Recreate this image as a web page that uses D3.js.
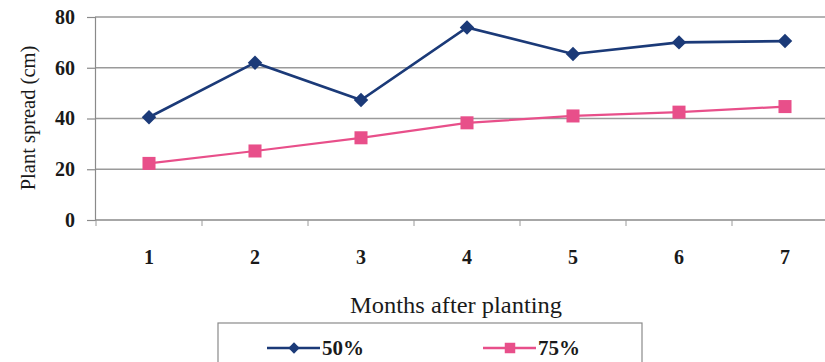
<!DOCTYPE html>
<html>
<head>
<meta charset="utf-8">
<script src="https://cdn.jsdelivr.net/npm/d3@7/dist/d3.min.js"></script>
<style>
  html, body { margin: 0; padding: 0; background: #ffffff; }
  svg { display: block; }
  text { font-family: "Liberation Serif", "DejaVu Serif", serif; fill: #1a1a1a; }
</style>
</head>
<body>
<svg id="chart" width="825" height="362"></svg>
<script>
// Months after planting
const months = ["1", "2", "3", "4", "5", "6", "7"];
// Plant spread (cm) per treatment
const spread50 = [40.5, 62, 47.3, 75.9, 65.4, 70, 70.5];
const spread75 = [22.3, 27.2, 32.4, 38.3, 41, 42.5, 44.7];
const yTicks = [0, 20, 40, 60, 80];
const seriesNames = ["50%", "75%"];
const seriesColors = ["#1b3a78", "#e84f8a"];

const svg = d3.select("#chart");
const margin = { left: 95, top: 17, bottom: 220, right: 838 };

const x = d3.scaleBand().domain(months).range([margin.left + 1, margin.right]);
const y = d3.scaleLinear().domain([0, 80]).range([margin.bottom, margin.top]);

// Horizontal gridlines
svg.append("g")
  .selectAll("line")
  .data(yTicks.filter(d => d > 0))
  .join("line")
  .attr("x1", margin.left).attr("x2", 825)
  .attr("y1", d => y(d)).attr("y2", d => y(d))
  .attr("stroke", "#9a9a9a").attr("stroke-width", 1.5);

// Y axis
const yAxis = svg.append("g")
  .attr("transform", `translate(${margin.left},0)`)
  .call(d3.axisLeft(y).tickValues(yTicks).tickSize(8).tickPadding(12));
yAxis.select(".domain").attr("stroke", "#8a8a8a").attr("stroke-width", 1.2);
yAxis.selectAll(".tick line").attr("stroke", "#8a8a8a").attr("stroke-width", 1.2);
yAxis.selectAll(".tick text")
  .attr("font-size", 20).attr("font-weight", "bold")
  .attr("font-family", "Liberation Serif, serif").attr("fill", "#222");

// X axis: ticks on category boundaries
const xAxisG = svg.append("g").attr("transform", `translate(0,${margin.bottom})`);
xAxisG.append("line")
  .attr("x1", margin.left).attr("x2", 825)
  .attr("stroke", "#8a8a8a").attr("stroke-width", 1.5);
const bounds = months.map(m => x(m)).concat([x(months[months.length - 1]) + x.bandwidth()]);
xAxisG.selectAll("line.tick")
  .data(bounds)
  .join("line")
  .attr("class", "tick")
  .attr("x1", d => d).attr("x2", d => d)
  .attr("y1", 0).attr("y2", 6)
  .attr("stroke", "#9a9a9a").attr("stroke-width", 1);
xAxisG.selectAll("text")
  .data(months)
  .join("text")
  .attr("x", d => x(d) + x.bandwidth() / 2)
  .attr("y", 44)
  .attr("text-anchor", "middle")
  .attr("font-size", 20).attr("font-weight", "bold")
  .attr("fill", "#222")
  .text(d => d);

// Axis titles
svg.append("text")
  .attr("transform", `translate(35,118) rotate(-90)`)
  .attr("text-anchor", "middle")
  .attr("font-size", 20.5)
  .text("Plant spread (cm)");

svg.append("text")
  .attr("x", 456).attr("y", 313)
  .attr("text-anchor", "middle")
  .attr("font-size", 23.5)
  .attr("textLength", 212).attr("lengthAdjust", "spacingAndGlyphs")
  .text("Months after planting");

// Series lines and markers
const cx = d => x(d) + x.bandwidth() / 2;
const line = d3.line().x((d, i) => cx(months[i])).y(d => y(d));

const diamond = d3.symbol().type(d3.symbolSquare).size(105);
const square = d3.symbol().type(d3.symbolSquare).size(170);

svg.append("path")
  .datum(spread75)
  .attr("d", line)
  .attr("fill", "none").attr("stroke", seriesColors[1]).attr("stroke-width", 2.2);
svg.append("g").selectAll("path")
  .data(spread75)
  .join("path")
  .attr("transform", (d, i) => `translate(${cx(months[i])},${y(d)})`)
  .attr("d", square)
  .attr("fill", seriesColors[1]);

svg.append("path")
  .datum(spread50)
  .attr("d", line)
  .attr("fill", "none").attr("stroke", seriesColors[0]).attr("stroke-width", 2.6);
svg.append("g").selectAll("path")
  .data(spread50)
  .join("path")
  .attr("transform", (d, i) => `translate(${cx(months[i])},${y(d)}) rotate(45)`)
  .attr("d", diamond)
  .attr("fill", seriesColors[0]);

// Legend
const legend = svg.append("g");
legend.append("rect")
  .attr("x", 218).attr("y", 323).attr("width", 424).attr("height", 50)
  .attr("fill", "#ffffff").attr("stroke", "#8a8a8a").attr("stroke-width", 1.2);

const legendItems = [
  { name: seriesNames[0], color: seriesColors[0], sym: d3.symbol().type(d3.symbolSquare).size(64), rot: 45, x0: 267 },
  { name: seriesNames[1], color: seriesColors[1], sym: d3.symbol().type(d3.symbolSquare).size(110), rot: 0, x0: 483 }
];
legendItems.forEach(item => {
  const g = legend.append("g").attr("transform", `translate(${item.x0},348)`);
  g.append("line").attr("x1", 0).attr("x2", 53)
    .attr("stroke", item.color).attr("stroke-width", 2.6);
  g.append("path").attr("transform", `translate(27,0) rotate(${item.rot})`).attr("d", item.sym).attr("fill", item.color);
  g.append("text").attr("x", 55).attr("y", 7)
    .attr("font-size", 21).attr("font-weight", "bold").attr("fill", "#222")
    .text(item.name);
});
</script>
</body>
</html>
